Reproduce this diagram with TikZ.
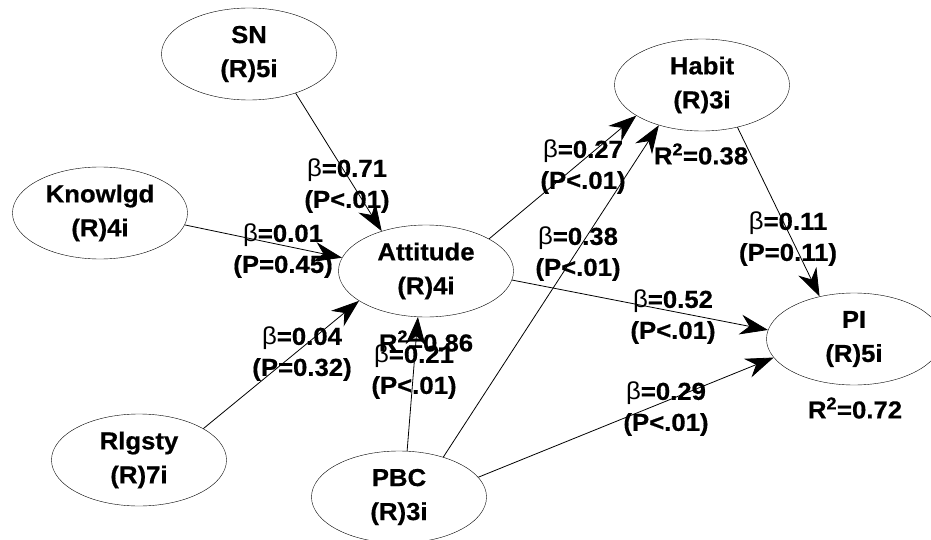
\documentclass[tikz,border=0pt]{standalone}
\usepackage{fontspec}
\setmainfont{Liberation Sans}[FakeStretch=1.05, BoldFeatures={FakeBold=0.6}]
\usetikzlibrary{shapes.geometric, arrows.meta, positioning}

\newcommand{\bet}{{\mdseries β}}

\begin{document}
\begin{tikzpicture}[x=1pt, y=-1pt,
  latent/.style={draw, ellipse, minimum width=175pt, minimum height=92pt, inner sep=0pt, align=center, font=\fontsize{24.5}{34}\selectfont\bfseries},
  coef/.style={align=center, inner sep=0pt, font=\fontsize{24.5}{31}\selectfont\bfseries},
  link/.style={-{Stealth[length=28pt, width=20pt, inset=9pt]}, line width=0.8pt}]
\useasboundingbox (0,0) rectangle (931,540);

% constructs
\node[latent] (sn) at (249,54) {SN\\(R)5i};
\node[latent] (know) at (100,213) {Knowlgd\\(R)4i};
\node[latent] (att) at (426,271) {Attitude\\(R)4i};
\node[latent] (rel) at (139,460) {Rlgsty\\(R)7i};
\node[latent] (pbc) at (399,497) {PBC\\(R)3i};
\node[latent] (hab) at (702,85) {Habit\\(R)3i};
\node[latent] (pi) at (854,339) {PI\\(R)5i};

% paths
\draw[link] (sn.-40) -- (att.138);
\draw[link] (know.-8) -- (att.171);
\draw[link] (rel.26) -- (att.204);
\draw[link] (pbc.80) -- (att.260);
\draw[link] (pbc.42) -- (hab.223);
\draw[link] (pbc.14) -- (pi.193);
\draw[link] (att.27) -- (hab.205);
\draw[link] (att.-6) -- (pi.174);
\draw[link] (hab.-50) -- (pi.129);

% coefficients
\node[coef] (c71) at (347,186) {\bet=0.71\\(P<.01)};
\node[coef] (c01) at (283,251) {\bet=0.01\\(P=0.45)};
\node[coef] (c04) at (302,354) {\bet=0.04\\(P=0.32)};
\node[coef] (c21) at (414,372) {\bet=0.21\\(P<.01)};
\node[coef] (c27) at (583,167) {\bet=0.27\\(P<.01)};
\node[coef] (c38) at (578,254) {\bet=0.38\\(P<.01)};
\node[coef] (c11) at (788,239) {\bet=0.11\\(P=0.11)};
\node[coef] (c52) at (673,317) {\bet=0.52\\(P<.01)};
\node[coef] (c29) at (666,409) {\bet=0.29\\(P<.01)};

% explained variance
\node[coef] (r86) at (426,341) {R\textsuperscript{2}=0.86};
\node[coef] (r38) at (701,154) {R\textsuperscript{2}=0.38};
\node[coef] (r72) at (855,408) {R\textsuperscript{2}=0.72};
\end{tikzpicture}
\end{document}
